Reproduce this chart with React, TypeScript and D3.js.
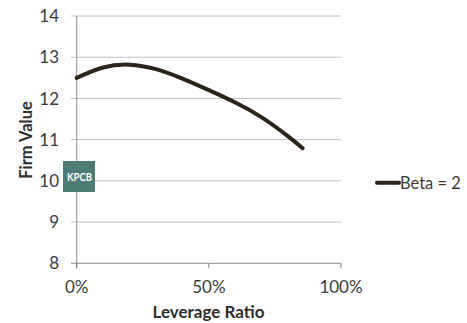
import React from "react";
import * as d3 from "d3";

const leverage = [0, 0.1, 0.2, 0.3, 0.4, 0.5, 0.6, 0.7, 0.8, 0.855];
const firmValue = [12.5, 12.75, 12.82, 12.71, 12.48, 12.2, 11.9, 11.54, 11.08, 10.79];
const yTicks = [8, 9, 10, 11, 12, 13, 14];
const xTicks = [0, 0.5, 1];
const seriesName = "Beta = 2";

const W = 467, H = 323;
const FONT = "Lato, 'Open Sans', sans-serif";

export default function App() {
  const x = d3.scaleLinear().domain([0, 1]).range([76.7, 341]);
  const y = d3.scaleLinear().domain([8, 14]).range([263.3, 16]);
  const line = d3
    .line<number>()
    .x((_, i) => x(leverage[i]))
    .y((d) => y(d))
    .curve(d3.curveNatural);
  const fmt = d3.format(".0%");
  return (
    <svg width={W} height={H} style={{ position: "absolute", left: 0, top: 0, background: "#fff" }}>
      {yTicks.map((t) => (
        <g key={t}>
          <line x1={71} x2={341} y1={y(t)} y2={y(t)} stroke={t === 8 ? "#8c8c8c" : "#c0c0c0"} strokeWidth={1} />
          <text x={59} y={y(t)} dy="0.36em" textAnchor="end" fontFamily={FONT} fontSize={17} fill="#3a3a3a">
            {t}
          </text>
        </g>
      ))}
      <line x1={x(0)} x2={x(0)} y1={y(14)} y2={y(8) + 5} stroke="#8c8c8c" strokeWidth={1} />
      {xTicks.map((t) => (
        <g key={t}>
          <line x1={x(t)} x2={x(t)} y1={y(8)} y2={y(8) + 5} stroke="#8c8c8c" strokeWidth={1} />
          <text x={x(t)} y={287} dy="0.36em" textAnchor="middle" fontFamily={FONT} fontSize={17} fill="#3a3a3a">
            {fmt(t)}
          </text>
        </g>
      ))}
      <path d={line(firmValue) || ""} fill="none" stroke="#2a2419" strokeWidth={4} strokeLinecap="round" />
      <text
        transform={`translate(32,140) rotate(-90)`}
        textAnchor="middle"
        fontFamily={FONT}
        fontSize={16.5}
        fontWeight="bold"
        fill="#2e2e2e"
      >
        Firm Value
      </text>
      <text x={208.5} y={318} textAnchor="middle" fontFamily={FONT} fontSize={17} fontWeight="bold" fill="#2e2e2e">
        Leverage Ratio
      </text>
      <rect x={63} y={161} width={32} height={31} fill="#4b7c77" />
      <text
        x={67}
        y={176.5}
        dy="0.36em"
        fontFamily={FONT}
        fontSize={12}
        fontWeight="bold"
        fill="#fff"
        textLength={25}
        lengthAdjust="spacingAndGlyphs"
      >
        KPCB
      </text>
      <line x1={377} x2={399} y1={182.7} y2={182.7} stroke="#2a2419" strokeWidth={4} strokeLinecap="round" />
      <text x={400} y={182.7} dy="0.36em" fontFamily={FONT} fontSize={16.5} fill="#3a3a3a">
        {seriesName}
      </text>
    </svg>
  );
}
